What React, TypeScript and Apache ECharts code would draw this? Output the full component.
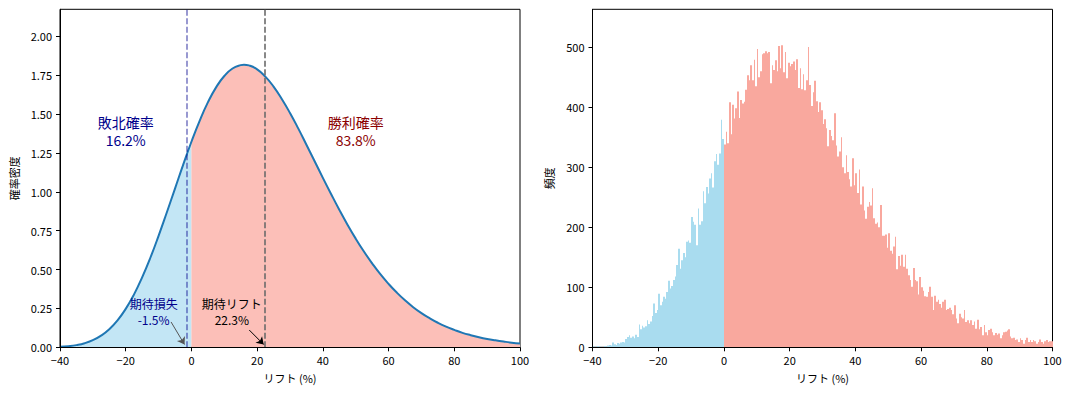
import React, { useEffect, useRef } from 'react';
import * as echarts from 'echarts';

// ---------- Left panel: posterior density of lift ----------
const densityX = [
  -40, -37.5, -35, -32.5, -30, -27.5, -25, -22.5, -20, -17.5, -15, -12.5, -10, -7.5, -5, -2.5,
  0, 2.5, 5, 7.5, 10, 12.5, 15, 16, 17.5, 20, 22.5, 25, 27.5, 30, 32.5, 35, 37.5, 40, 42.5, 45, 47.5,
  50, 52.5, 55, 57.5, 60, 62.5, 65, 67.5, 70, 72.5, 75, 77.5, 80, 82.5, 85, 87.5, 90, 92.5, 95, 97.5, 100,
];
const densityY = [
  0.003, 0.007, 0.014, 0.026, 0.046, 0.075, 0.116, 0.173, 0.247, 0.339, 0.45, 0.576, 0.717, 0.867, 1.021, 1.175,
  1.322, 1.457, 1.575, 1.672, 1.745, 1.793, 1.815, 1.818, 1.813, 1.788, 1.741, 1.677, 1.597, 1.507, 1.408, 1.303, 1.197,
  1.09, 0.986, 0.885, 0.789, 0.699, 0.616, 0.54, 0.47, 0.408, 0.352, 0.302, 0.258, 0.22, 0.187, 0.158, 0.133,
  0.112, 0.093, 0.078, 0.065, 0.054, 0.045, 0.037, 0.03, 0.025,
];
const lossProbLabel = '敗北確率\n16.2%';
const winProbLabel = '勝利確率\n83.8%';
const expectedLoss = -1.5;
const expectedLift = 22.3;
const expectedLossLabel = '期待損失\n-1.5%';
const expectedLiftLabel = '期待リフト\n22.3%';
const densityTicks = [0, 0.25, 0.5, 0.75, 1.0, 1.25, 1.5, 1.75, 2.0];

// ---------- Right panel: histogram of sampled lift ----------
const HIST_START = -40;
const BIN_WIDTH = 0.5;
const histCounts = [
  2, 1, 0, 2, 1, 1, 0, 2, 1, 3,
  4, 3, 8, 5, 4, 7, 6, 8, 9, 8,
  14, 17, 20, 16, 18, 15, 21, 17, 38, 30,
  36, 33, 35, 45, 39, 43, 52, 73, 57, 62,
  89, 70, 76, 84, 81, 92, 111, 98, 102, 112,
  118, 137, 164, 131, 145, 157, 150, 176, 178, 174,
  217, 209, 204, 170, 231, 204, 210, 260, 240, 267,
  256, 281, 290, 266, 310, 322, 304, 323, 379, 347,
  338, 359, 340, 408, 355, 404, 381, 398, 426, 382,
  412, 406, 409, 429, 453, 445, 470, 445, 479, 435,
  497, 450, 460, 488, 490, 493, 490, 492, 440, 470,
  462, 478, 460, 502, 465, 503, 458, 492, 448, 474,
  468, 472, 476, 462, 480, 432, 465, 430, 455, 428,
  445, 500, 437, 402, 425, 444, 410, 392, 408, 395,
  372, 380, 365, 335, 362, 352, 345, 390, 336, 318,
  326, 350, 300, 290, 320, 292, 280, 268, 315, 270,
  290, 257, 296, 238, 268, 228, 214, 234, 242, 236,
  265, 215, 206, 208, 200, 237, 186, 186, 188, 166,
  190, 161, 156, 168, 184, 130, 152, 136, 154, 134,
  154, 131, 120, 112, 101, 132, 112, 110, 88, 117,
  100, 94, 85, 84, 92, 101, 84, 62, 86, 76,
  79, 72, 66, 76, 79, 62, 64, 66, 62, 55,
  70, 48, 40, 56, 50, 48, 62, 42, 45, 40,
  45, 37, 43, 31, 46, 30, 34, 20, 37, 25,
  20, 29, 31, 25, 20, 24, 21, 23, 15, 20,
  25, 26, 28, 30, 18, 15, 16, 12, 13, 9,
  15, 12, 6, 12, 16, 9, 12, 9, 12, 10,
  6, 9, 13, 9, 6, 10, 12, 9, 10, 10,
];
const countTicks = [0, 100, 200, 300, 400, 500];

const FONT = 'Noto Sans CJK JP';

export default function App() {
  const ref = useRef<HTMLDivElement>(null);

  useEffect(() => {
    if (!ref.current) return;
    const chart = echarts.init(ref.current, null, { renderer: 'svg' });

    const pairs = densityX.map((x, i) => [x, densityY[i]]);
    const leftPart = pairs.filter((p) => p[0] <= 0);
    const rightPart = pairs.filter((p) => p[0] >= 0);
    const histData = histCounts.map((c, i) => [HIST_START + i * BIN_WIDTH, c]);

    const axisCommon = {
      z: 10,
      axisLine: { show: true, onZero: false, lineStyle: { color: '#000', width: 1 } },
      axisTick: { show: true, length: 4, lineStyle: { color: '#000', width: 1 } },
      splitLine: { show: false },
      nameTextStyle: { color: '#000', fontSize: 11, fontFamily: FONT },
    };
    const xAxisBase = (gridIndex: number) => ({
      ...axisCommon,
      gridIndex,
      type: 'value',
      min: -40,
      max: 100,
      interval: 20,
      name: 'リフト (%)',
      nameLocation: 'middle',
      nameGap: 25,
      axisLabel: {
        color: '#000',
        fontSize: 11,
        fontFamily: FONT,
        margin: 7,
        formatter: (v: number) => String(v).replace('-', '\u2212'),
      },
    });

    const labelBase = { textBorderWidth: 0, opacity: 1, fontFamily: FONT };

    const option: any = {
      animation: false,
      textStyle: { fontFamily: FONT },
      grid: [
        { left: 60, top: 9.3, width: 460, height: 338, show: true, borderColor: '#000', borderWidth: 1, backgroundColor: 'transparent' },
        { left: 592.5, top: 9.3, width: 460, height: 338, show: true, borderColor: '#000', borderWidth: 1, backgroundColor: 'transparent' },
      ],
      xAxis: [xAxisBase(0), xAxisBase(1)],
      yAxis: [
        {
          ...axisCommon,
          gridIndex: 0,
          type: 'value',
          min: 0,
          max: 2.174,
          name: '確率密度',
          nameLocation: 'middle',
          nameRotate: 90,
          nameGap: 40.5,
          axisTick: { ...axisCommon.axisTick, customValues: densityTicks },
          axisLabel: {
            color: '#000',
            fontSize: 11,
            fontFamily: FONT,
            margin: 8,
            customValues: densityTicks,
            formatter: (v: number) => v.toFixed(2),
          },
        },
        {
          ...axisCommon,
          gridIndex: 1,
          type: 'value',
          min: 0,
          max: 563,
          name: '頻度',
          nameLocation: 'middle',
          nameRotate: 90,
          nameGap: 38,
          axisTick: { ...axisCommon.axisTick, customValues: countTicks },
          axisLabel: {
            color: '#000',
            fontSize: 11,
            fontFamily: FONT,
            margin: 8,
            customValues: countTicks,
            formatter: (v: number) => String(v),
          },
        },
      ],
      series: [
        {
          type: 'line',
          xAxisIndex: 0,
          yAxisIndex: 0,
          data: leftPart,
          smooth: true,
          symbol: 'none',
          silent: true,
          lineStyle: { width: 0 },
          areaStyle: { color: '#c3e6f5', opacity: 1 },
          z: 1,
        },
        {
          type: 'line',
          xAxisIndex: 0,
          yAxisIndex: 0,
          data: rightPart,
          smooth: true,
          symbol: 'none',
          silent: true,
          lineStyle: { width: 0 },
          areaStyle: { color: '#fcbfb8', opacity: 1 },
          z: 1,
        },
        {
          type: 'line',
          xAxisIndex: 0,
          yAxisIndex: 0,
          data: pairs,
          smooth: true,
          symbol: 'none',
          silent: true,
          lineStyle: { color: '#1f77b4', width: 2 },
          z: 3,
          markLine: {
            silent: true,
            symbol: ['none', 'none'],
            label: { show: false },
            emphasis: { disabled: true },
            data: [
              { xAxis: expectedLoss, lineStyle: { color: 'rgba(0,0,139,0.5)', type: [6, 2.5], width: 1.6 } },
              { xAxis: expectedLift, lineStyle: { color: '#6b6b6b', type: [6, 2.5], width: 1.6 } },
              [
                { coord: [-6.2, 0.163], symbol: 'none', lineStyle: { color: '#555', width: 1, type: 'solid' } },
                { coord: [-2.1, 0.018], symbol: 'arrow', symbolSize: 7, lineStyle: { color: '#555', width: 1, type: 'solid' } },
              ],
              [
                { coord: [17.6, 0.111], symbol: 'none', lineStyle: { color: '#000', width: 1, type: 'solid' } },
                { coord: [22.0, 0.018], symbol: 'arrow', symbolSize: 7, lineStyle: { color: '#000', width: 1, type: 'solid' } },
              ],
            ],
          },
        },
        {
          type: 'scatter',
          xAxisIndex: 0,
          yAxisIndex: 0,
          symbolSize: 1,
          silent: true,
          itemStyle: { color: 'rgba(0,0,0,0)' },
          z: 4,
          label: { show: true, position: 'inside', align: 'center', verticalAlign: 'middle', ...labelBase },
          data: [
            { value: [-20, 1.392], label: { ...labelBase, formatter: lossProbLabel, color: '#00008b', fontSize: 14, lineHeight: 18 } },
            { value: [50, 1.392], label: { ...labelBase, formatter: winProbLabel, color: '#8b0000', fontSize: 14, lineHeight: 18 } },
            { value: [expectedLoss - 10, 0.231], label: { ...labelBase, formatter: expectedLossLabel, color: '#00008b', fontSize: 12, lineHeight: 16 } },
            { value: [expectedLift - 10, 0.229], label: { ...labelBase, formatter: expectedLiftLabel, color: '#000', fontSize: 12, lineHeight: 16 } },
          ],
        },
        {
          type: 'custom',
          xAxisIndex: 1,
          yAxisIndex: 1,
          silent: true,
          data: histData,
          encode: { x: 0, y: 1 },
          renderItem: (params: any, api: any) => {
            const x0 = api.value(0);
            const c = api.value(1);
            const top = api.coord([x0, c]);
            const base = api.coord([x0 + BIN_WIDTH, 0]);
            const xl = Math.round(top[0]);
            const xr = Math.round(base[0]);
            return {
              type: 'rect',
              shape: { x: xl, y: top[1], width: Math.max(1, xr - xl), height: base[1] - top[1] },
              style: { fill: x0 < 0 ? '#a9dcef' : '#f9a89e', stroke: 'none' },
            };
          },
        },
      ],
    };

    chart.setOption(option);
    return () => chart.dispose();
  }, []);

  return <div ref={ref} style={{ position: 'absolute', left: 0, top: 0, width: 1071, height: 396 }} />;
}
